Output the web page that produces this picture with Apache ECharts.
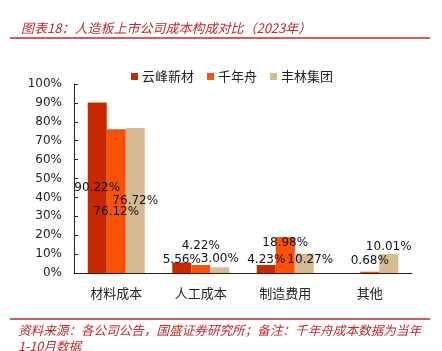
<!DOCTYPE html>
<html>
<head>
<meta charset="utf-8">
<script src="https://cdn.jsdelivr.net/npm/echarts@6/dist/echarts.min.js"></script>
<style>
  html, body { margin: 0; padding: 0; background: #fff; }
  #chart { width: 442px; height: 351px; }
</style>
</head>
<body>
<div id="chart"></div>
<script>
// 数据
const categories = ['材料成本', '人工成本', '制造费用', '其他']
const yunfeng = [90.22, 5.56, 4.23, null]
const qiannianzhou = [76.12, 4.22, 18.98, 0.68]
const fenglin = [76.72, 3.00, 10.27, 10.01]
const yTicks = [0, 10, 20, 30, 40, 50, 60, 70, 80, 90, 100]

// 标签位置（按参考图手工调整）
const labelPos = {
  yunfeng: [['inside', [0, 0]], ['top', [0, 8]], ['top', [0, 6]], ['top', [0, 0]]],
  qiannianzhou: [['inside', [0, 11]], ['top', [0, -8]], ['insideTop', [0, -5]], ['top', [0, 0]]],
  fenglin: [['inside', [0, 0]], ['top', [0, 3]], ['insideTop', [6, -5]], ['top', [0, 4]]]
}

const red = '#c0282d'
const labelFont = 'DejaVu Sans, sans-serif'

function makeSeries(name, values, color, key) {
  return {
    name: name,
    type: 'bar',
    barWidth: 19,
    barGap: '0%',
    itemStyle: { color: color },
    data: values.map((v, i) => ({
      value: v,
      label: {
        position: labelPos[key][i][0],
        offset: labelPos[key][i][1]
      }
    })),
    label: {
      show: true,
      color: '#111',
      fontFamily: labelFont,
      fontSize: 12,
      formatter: p => (p.value == null ? '' : p.value.toFixed(2) + '%')
    }
  }
}

const chart = echarts.init(document.getElementById('chart'))

const option = {
  animation: false,
  title: {
    text: '图表18：人造板上市公司成本构成对比（2023年）',
    left: 16,
    top: 17,
    textStyle: {
      color: red,
      fontSize: 13,
      fontStyle: 'italic',
      fontWeight: 'normal',
      fontFamily: 'Noto Sans CJK SC'
    }
  },
  graphic: [
    { type: 'line', shape: { x1: 10, y1: 38, x2: 430, y2: 38 }, style: { stroke: red, lineWidth: 1.5 } },
    { type: 'line', shape: { x1: 10, y1: 319, x2: 430, y2: 319 }, style: { stroke: red, lineWidth: 1.5 } },
    {
      type: 'text',
      left: 18,
      top: 322,
      style: {
        text: '资料来源：各公司公告，国盛证券研究所；备注：千年舟成本数据为当年\n1-10月数据',
        fill: red,
        font: 'italic 12.6px "Noto Sans CJK SC"',
        lineHeight: 16
      }
    }
  ],
  legend: {
    data: ['云峰新材', '千年舟', '丰林集团'],
    left: 126,
    top: 65,
    itemWidth: 7,
    itemHeight: 7,
    itemGap: 13,
    icon: 'rect',
    textStyle: {
      fontSize: 13,
      color: '#222',
      fontFamily: 'Noto Sans CJK SC',
      padding: [0, 0, 0, -1]
    }
  },
  grid: {
    left: 74,
    right: 30,
    top: 84,
    bottom: 78
  },
  xAxis: {
    type: 'category',
    data: categories,
    axisLine: { lineStyle: { color: '#222' } },
    axisTick: { inside: true, length: 4, lineStyle: { color: '#222' } },
    axisLabel: {
      color: '#222',
      fontSize: 13,
      fontFamily: 'Noto Sans CJK SC',
      margin: 14
    }
  },
  yAxis: {
    type: 'value',
    min: yTicks[0],
    max: yTicks[yTicks.length - 1],
    interval: 10,
    axisLine: { show: true, lineStyle: { color: '#222' } },
    axisTick: { show: true, inside: true, length: 4, lineStyle: { color: '#222' } },
    splitLine: { show: false },
    axisLabel: {
      color: '#222',
      fontSize: 12,
      fontFamily: labelFont,
      margin: 12,
      formatter: '{value}%'
    }
  },
  series: [
    makeSeries('云峰新材', yunfeng, '#c82800', 'yunfeng'),
    makeSeries('千年舟', qiannianzhou, '#fc5208', 'qiannianzhou'),
    makeSeries('丰林集团', fenglin, '#d5ba94', 'fenglin')
  ]
}

chart.setOption(option)
</script>
</body>
</html>
